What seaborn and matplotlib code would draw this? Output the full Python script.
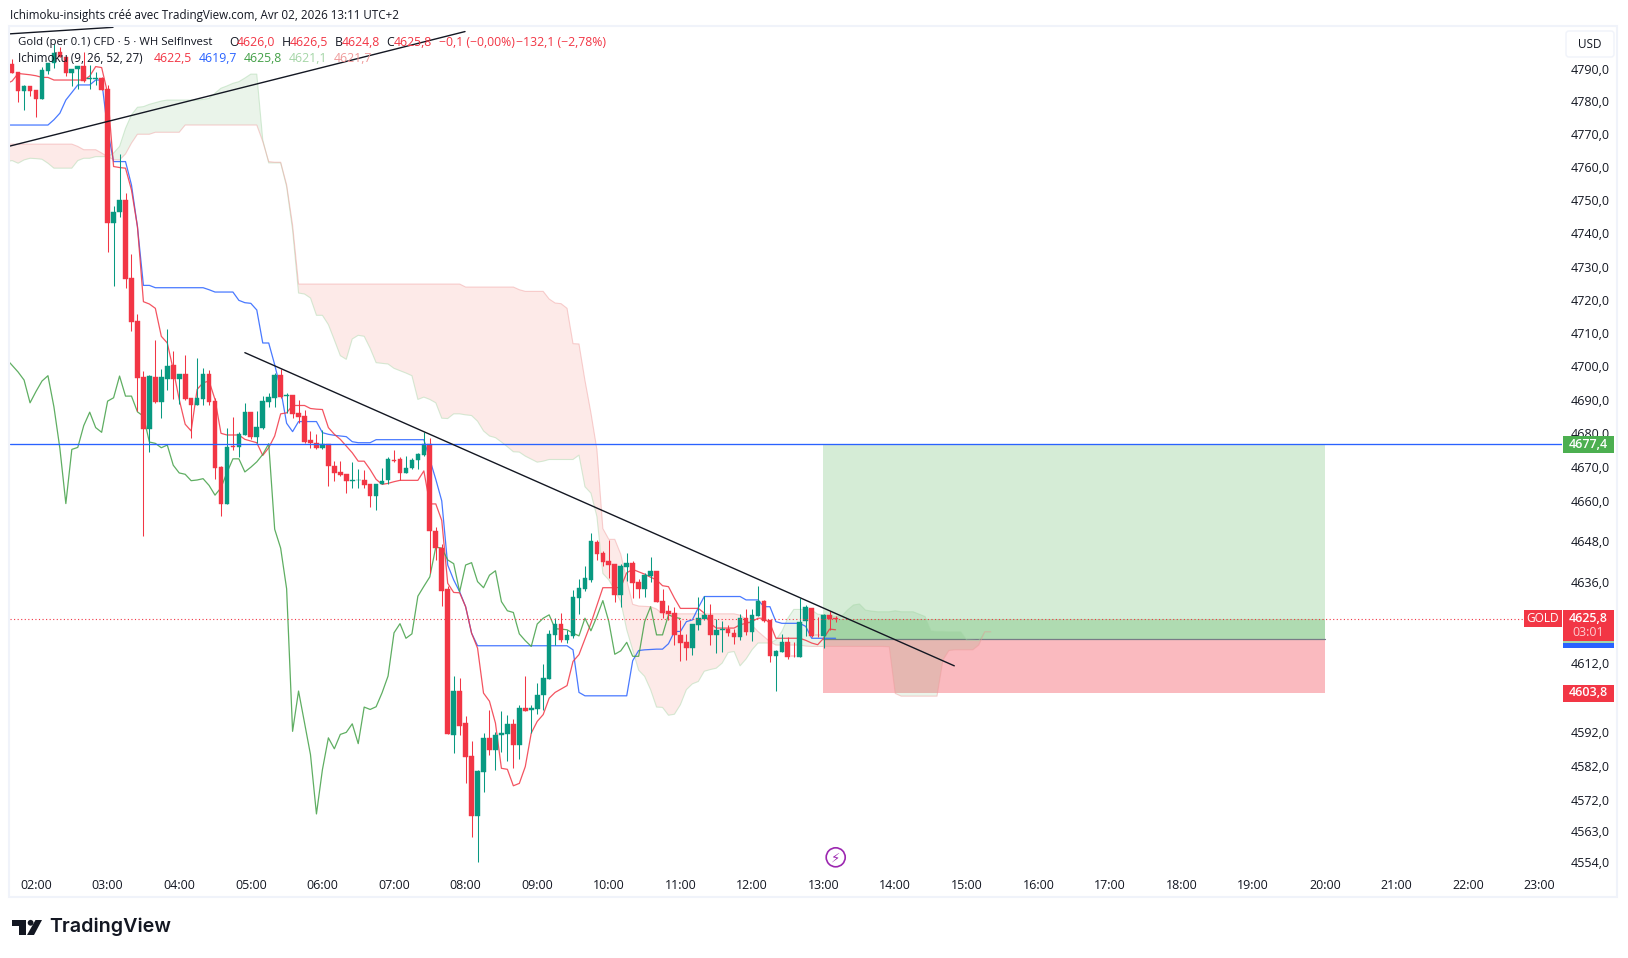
import numpy as np
import pandas as pd
import matplotlib
matplotlib.use("Agg")
import matplotlib.pyplot as plt
import seaborn as sns
from matplotlib.patches import Rectangle, Polygon, Circle, FancyBboxPatch
from matplotlib.transforms import Affine2D, ScaledTranslation
from matplotlib.ticker import NullLocator

# --- CHART DATA (prices) ---
# one value per 5 min bar, first candle is 01:40
opens = [
    4792.0, 4789.7, 4784.0, 4785.4, 4784.2, 4781.5, 4790.0, 4792.3, 4795.8, 4794.1,
    4789.4, 4790.5, 4791.5, 4787.6, 4787.6, 4787.7, 4784.4, 4743.9, 4747.0, 4750.8,
    4727.1, 4714.3, 4697.4, 4682.0, 4697.6, 4690.0, 4696.9, 4701.2, 4696.9, 4698.3,
    4691.1, 4689.1, 4690.9, 4698.3, 4690.2, 4670.6, 4659.6, 4676.9, 4676.5, 4680.2,
    4687.2, 4679.6, 4682.2, 4689.9, 4691.2, 4698.0, 4691.9, 4692.0, 4686.9, 4686.0,
    4678.6, 4677.9, 4676.2, 4677.4, 4671.1, 4669.1, 4668.5, 4666.6, 4666.8, 4666.9,
    4665.5, 4662.0, 4665.5, 4666.8, 4672.8, 4672.9, 4668.8, 4670.4, 4672.7, 4674.1,
    4677.6, 4651.8, 4646.6, 4634.4, 4591.7, 4604.6, 4595.2, 4585.5, 4568.0, 4580.8,
    4590.8, 4587.3, 4591.5, 4592.0, 4594.9, 4588.6, 4599.5, 4598.8, 4599.3, 4603.2,
    4608.1, 4621.1, 4624.3, 4619.6, 4620.8, 4632.0, 4634.6, 4637.3, 4648.3, 4645.1,
    4642.7, 4641.9, 4632.8, 4641.0, 4642.1, 4636.6, 4634.5, 4638.3, 4639.8, 4631.0,
    4628.1, 4627.5, 4621.0, 4619.0, 4617.2, 4624.0, 4625.7, 4626.9, 4621.0, 4622.4,
    4622.8, 4621.6, 4620.4, 4626.0, 4621.9, 4626.6, 4631.0, 4625.4, 4614.9, 4616.1,
    4619.0, 4614.9, 4614.4, 4625.1, 4628.9, 4621.0, 4620.7, 4626.9, 4626.0,
]
highs = [
    4793.5, 4789.7, 4785.7, 4785.4, 4784.2, 4791.3, 4792.3, 4798.3, 4797.3, 4794.1,
    4790.6, 4791.5, 4795.8, 4791.8, 4789.7, 4788.2, 4785.7, 4749.0, 4764.6, 4752.8,
    4734.6, 4716.4, 4699.4, 4698.0, 4708.7, 4699.9, 4712.0, 4705.4, 4698.3, 4704.2,
    4691.1, 4703.3, 4700.2, 4699.7, 4691.3, 4670.9, 4682.4, 4685.6, 4681.2, 4689.6,
    4687.2, 4687.3, 4691.8, 4692.8, 4698.6, 4700.0, 4692.8, 4692.0, 4690.5, 4687.8,
    4681.4, 4680.4, 4681.7, 4677.4, 4672.6, 4672.6, 4668.5, 4672.3, 4670.2, 4669.7,
    4665.5, 4665.7, 4670.4, 4673.6, 4675.6, 4673.6, 4673.9, 4673.2, 4674.7, 4681.2,
    4679.4, 4653.0, 4647.9, 4635.4, 4609.0, 4608.3, 4597.3, 4589.9, 4581.3, 4592.2,
    4599.0, 4592.5, 4598.7, 4597.5, 4596.4, 4600.4, 4609.0, 4600.5, 4607.0, 4612.5,
    4622.3, 4625.9, 4627.4, 4622.5, 4634.2, 4637.5, 4641.3, 4651.2, 4648.9, 4645.7,
    4648.9, 4641.9, 4641.9, 4645.1, 4642.7, 4637.6, 4639.1, 4643.9, 4639.8, 4634.5,
    4629.8, 4629.2, 4625.4, 4621.3, 4624.3, 4632.2, 4632.5, 4630.1, 4625.7, 4625.1,
    4624.0, 4622.8, 4627.2, 4628.7, 4628.7, 4635.4, 4631.3, 4625.4, 4616.6, 4621.3,
    4620.4, 4619.0, 4631.9, 4629.8, 4628.9, 4626.2, 4627.2, 4628.1, 4626.5,
]
lows = [
    4789.4, 4780.6, 4778.1, 4782.4, 4775.8, 4781.5, 4789.0, 4791.0, 4794.1, 4788.4,
    4785.5, 4784.4, 4786.7, 4784.4, 4785.7, 4784.2, 4735.1, 4724.8, 4745.5, 4724.3,
    4711.2, 4687.3, 4650.1, 4675.1, 4689.6, 4685.3, 4693.6, 4690.8, 4689.3, 4690.5,
    4679.4, 4689.0, 4689.0, 4689.2, 4667.0, 4656.1, 4659.6, 4675.7, 4673.6, 4680.2,
    4679.1, 4677.9, 4682.1, 4688.4, 4688.4, 4691.1, 4686.8, 4685.3, 4683.9, 4677.9,
    4676.2, 4675.9, 4676.1, 4665.0, 4666.5, 4668.0, 4662.8, 4664.5, 4664.3, 4664.5,
    4658.8, 4657.8, 4665.5, 4665.7, 4672.1, 4666.7, 4668.8, 4670.2, 4670.2, 4673.9,
    4639.1, 4643.2, 4629.5, 4592.0, 4586.5, 4591.7, 4577.7, 4561.9, 4554.5, 4575.1,
    4585.8, 4581.4, 4586.8, 4584.1, 4582.1, 4584.6, 4598.7, 4592.2, 4597.7, 4598.8,
    4608.1, 4618.1, 4618.8, 4618.6, 4620.0, 4627.2, 4633.9, 4636.7, 4643.0, 4641.3,
    4637.7, 4630.7, 4629.3, 4636.9, 4631.9, 4631.9, 4632.2, 4636.6, 4630.7, 4626.0,
    4625.4, 4618.1, 4613.4, 4613.7, 4615.2, 4622.5, 4625.4, 4617.9, 4615.8, 4616.1,
    4620.7, 4618.4, 4619.4, 4621.0, 4619.1, 4626.6, 4624.7, 4613.1, 4604.6, 4616.1,
    4614.0, 4614.6, 4614.4, 4620.7, 4620.5, 4620.5, 4617.2, 4622.5, 4624.8,
]
closes = [
    4789.4, 4784.0, 4785.4, 4784.0, 4781.5, 4790.2, 4792.3, 4795.5, 4794.1, 4789.4,
    4790.6, 4791.5, 4787.0, 4787.7, 4787.7, 4784.2, 4743.9, 4747.0, 4750.8, 4726.9,
    4714.1, 4697.1, 4682.0, 4697.7, 4690.0, 4697.4, 4700.9, 4696.9, 4698.3, 4690.9,
    4689.1, 4691.1, 4698.3, 4690.0, 4670.4, 4659.6, 4676.5, 4676.5, 4680.4, 4687.2,
    4679.5, 4682.5, 4690.2, 4691.4, 4698.0, 4691.4, 4692.0, 4686.6, 4685.7, 4678.1,
    4677.7, 4676.3, 4677.4, 4670.9, 4668.8, 4668.2, 4666.5, 4666.7, 4666.9, 4665.3,
    4662.0, 4665.7, 4666.6, 4672.9, 4672.6, 4668.9, 4670.5, 4672.8, 4674.4, 4677.6,
    4651.7, 4646.6, 4634.0, 4592.0, 4604.6, 4594.3, 4585.3, 4568.0, 4581.1, 4590.8,
    4587.3, 4591.7, 4592.2, 4594.9, 4588.6, 4599.6, 4598.7, 4599.5, 4603.4, 4608.4,
    4621.3, 4624.3, 4619.6, 4621.0, 4632.2, 4634.8, 4637.7, 4648.6, 4644.8, 4642.4,
    4641.6, 4632.8, 4641.3, 4642.1, 4636.3, 4634.5, 4638.6, 4639.8, 4630.7, 4627.5,
    4627.2, 4621.0, 4618.7, 4617.2, 4624.3, 4626.0, 4626.9, 4621.0, 4622.5, 4622.7,
    4621.6, 4620.4, 4626.0, 4621.9, 4626.9, 4631.0, 4625.1, 4614.9, 4616.3, 4619.0,
    4614.6, 4614.7, 4624.8, 4629.2, 4620.7, 4620.9, 4626.9, 4625.7, 4625.8,
]
# indicator lines start one bar earlier, at the pane's left edge
tenkan = [
    4786.0,
    4786.9, 4789.2, 4789.0, 4788.8, 4788.5, 4788.0, 4788.0, 4787.2, 4787.2, 4787.2,
    4787.2, 4787.2, 4787.2, 4788.4, 4791.3, 4791.0, 4783.2, 4760.9, 4760.6, 4760.4,
    4753.8, 4742.7, 4720.1, 4719.4, 4718.1, 4709.7, 4707.7, 4699.7, 4690.8, 4683.4,
    4681.4, 4693.8, 4695.8, 4696.3, 4690.8, 4680.7, 4680.2, 4680.2, 4680.2, 4678.9,
    4678.4, 4677.9, 4674.1, 4676.4, 4679.9, 4686.5, 4686.8, 4689.0, 4689.0, 4689.0,
    4688.1, 4687.9, 4687.8, 4682.4, 4680.4, 4678.9, 4676.9, 4674.9, 4672.4, 4672.4,
    4669.9, 4667.0, 4665.5, 4665.8, 4666.3, 4666.7, 4666.7, 4666.7, 4666.7, 4669.5,
    4659.7, 4659.7, 4654.8, 4636.2, 4633.5, 4633.4, 4629.3, 4621.5, 4617.1, 4603.9,
    4601.5, 4595.1, 4581.9, 4581.6, 4576.8, 4577.5, 4582.4, 4592.2, 4595.6, 4597.6,
    4602.4, 4604.1, 4605.1, 4606.1, 4613.2, 4615.2, 4619.8, 4624.4, 4629.6, 4634.9,
    4634.9, 4634.9, 4635.0, 4639.3, 4640.3, 4639.6, 4638.9, 4638.0, 4637.2, 4635.5,
    4635.2, 4631.8, 4628.8, 4628.8, 4628.8, 4628.8, 4627.4, 4624.4, 4623.0, 4623.0,
    4623.0, 4623.0, 4624.0, 4624.4, 4624.9, 4625.9, 4625.9, 4624.4, 4620.0, 4620.0,
    4620.0, 4620.0, 4620.0, 4619.4, 4618.6, 4618.1, 4620.0, 4622.7, 4622.5,
]
kijun = [
    4773.5,
    4773.5, 4773.5, 4773.5, 4773.5, 4773.5, 4773.5, 4773.5, 4775.1, 4777.1, 4781.1,
    4783.4, 4785.7, 4785.7, 4785.7, 4787.2, 4787.2, 4772.0, 4762.4, 4762.4, 4762.4,
    4755.3, 4742.7, 4725.0, 4725.0, 4724.3, 4724.3, 4724.3, 4724.3, 4724.3, 4724.3,
    4724.3, 4724.3, 4724.3, 4723.7, 4723.0, 4723.0, 4723.0, 4723.0, 4720.5, 4719.8,
    4719.6, 4717.6, 4707.7, 4707.7, 4701.2, 4693.8, 4683.7, 4681.2, 4684.2, 4684.2,
    4684.2, 4684.2, 4680.9, 4680.4, 4680.1, 4679.9, 4679.7, 4678.2, 4677.9, 4677.9,
    4677.9, 4678.8, 4678.8, 4678.8, 4678.8, 4678.8, 4678.8, 4678.8, 4678.8, 4678.8,
    4672.9, 4667.0, 4660.6, 4641.6, 4637.2, 4633.7, 4629.3, 4621.5, 4617.8, 4617.8,
    4617.8, 4617.8, 4617.8, 4617.8, 4617.8, 4617.8, 4617.8, 4617.8, 4617.8, 4617.8,
    4617.8, 4617.8, 4617.8, 4617.8, 4616.6, 4604.1, 4603.1, 4603.1, 4603.1, 4603.1,
    4603.1, 4603.1, 4603.1, 4603.1, 4613.4, 4616.4, 4616.6, 4616.7, 4616.8, 4616.8,
    4618.4, 4622.0, 4622.0, 4624.9, 4625.4, 4629.0, 4632.3, 4632.3, 4632.3, 4632.3,
    4632.3, 4632.3, 4632.3, 4631.3, 4631.3, 4631.3, 4629.3, 4629.3, 4624.9, 4624.4,
    4624.4, 4624.4, 4624.4, 4623.5, 4620.0, 4620.0, 4620.0, 4620.0, 4620.0,
]
chikou = [
    4703.0,
    4701.0, 4699.0, 4696.6, 4689.8, 4693.2, 4696.3, 4697.9, 4688.6, 4676.2, 4659.8,
    4675.9, 4676.5, 4683.0, 4687.0, 4682.4, 4681.0, 4690.3, 4691.3, 4697.8, 4691.8,
    4691.8, 4687.1, 4685.8, 4678.1, 4677.7, 4676.4, 4677.2, 4671.2, 4668.9, 4668.5,
    4666.6, 4666.8, 4667.2, 4665.2, 4662.3, 4664.5, 4669.0, 4673.1, 4673.1, 4669.2,
    4670.6, 4672.2, 4674.4, 4677.6, 4652.2, 4646.6, 4634.6, 4592.7, 4604.5, 4595.2,
    4585.9, 4568.6, 4581.5, 4590.8, 4587.6, 4591.8, 4592.4, 4594.9, 4589.1, 4599.8,
    4599.1, 4599.9, 4604.0, 4608.9, 4621.6, 4624.3, 4620.0, 4621.3, 4632.4, 4635.3,
    4638.1, 4646.9, 4646.6, 4643.1, 4642.0, 4633.7, 4641.6, 4642.3, 4636.7, 4634.9,
    4638.6, 4639.9, 4630.8, 4628.1, 4627.6, 4621.3, 4619.3, 4617.6, 4624.2, 4625.9,
    4626.9, 4622.8, 4622.7, 4622.5, 4621.5, 4620.7, 4625.9, 4622.2, 4626.4, 4631.1,
    4624.9, 4615.3, 4616.3, 4618.8, 4614.7, 4614.7, 4624.9, 4629.3, 4621.0, 4621.0,
    4626.9, 4626.2, 4625.8,
]
senkou_a = [
    4762.4,
    4762.7, 4761.9, 4762.9, 4763.4, 4763.3, 4763.1, 4761.9, 4760.4, 4760.4, 4760.4,
    4760.4, 4762.7, 4763.4, 4763.4, 4763.9, 4763.9, 4763.9, 4765.0, 4767.0, 4772.5,
    4776.6, 4778.9, 4779.1, 4779.8, 4780.3, 4780.8, 4781.1, 4781.1, 4781.1, 4781.1,
    4781.1, 4781.1, 4781.3, 4781.6, 4783.2, 4784.7, 4785.4, 4786.2, 4786.7, 4787.8,
    4789.0, 4789.0, 4769.0, 4762.0, 4762.0, 4762.0, 4754.8, 4741.7, 4722.7, 4722.4,
    4721.2, 4716.0, 4716.0, 4713.2, 4708.6, 4703.9, 4702.8, 4708.9, 4710.0, 4709.7,
    4706.1, 4701.8, 4701.6, 4701.4, 4700.1, 4699.4, 4698.7, 4697.9, 4690.8, 4691.5,
    4690.8, 4689.8, 4685.2, 4685.1, 4686.5, 4686.5, 4686.2, 4686.0, 4684.3, 4681.4,
    4679.9, 4679.4, 4678.1, 4676.7, 4675.2, 4675.1, 4673.9, 4673.0, 4672.1, 4672.4,
    4672.9, 4672.9, 4672.9, 4672.9, 4672.9, 4674.2, 4664.8, 4662.9, 4656.0, 4639.1,
    4637.2, 4634.2, 4630.8, 4622.5, 4616.6, 4610.6, 4608.8, 4604.9, 4599.8, 4599.7,
    4597.4, 4597.7, 4600.5, 4604.9, 4606.6, 4607.3, 4610.3, 4610.8, 4611.2, 4612.7,
    4615.8, 4616.1, 4611.9, 4613.9, 4616.6, 4618.6, 4618.6, 4618.6, 4619.5, 4622.0,
    4625.9, 4628.5, 4628.5, 4628.5, 4628.3, 4627.1, 4626.9, 4626.6, 4626.4, 4626.4,
    4628.3, 4629.8, 4630.1, 4628.3, 4628.0, 4627.8, 4627.8, 4627.8, 4628.1, 4627.8,
    4627.8, 4627.8, 4627.1, 4626.4, 4622.2, 4622.0, 4622.0, 4621.9, 4621.9, 4621.9,
    4619.5, 4619.4, 4619.3, 4621.9, 4621.9,
]
senkou_b = [
    4767.7,
    4767.7, 4767.7, 4767.7, 4767.7, 4767.7, 4767.7, 4767.7, 4767.7, 4767.7, 4767.7,
    4767.7, 4767.0, 4766.0, 4766.0, 4766.0, 4765.0, 4763.9, 4763.0, 4762.9, 4764.7,
    4768.0, 4770.7, 4770.7, 4770.7, 4771.3, 4771.3, 4771.3, 4771.3, 4771.3, 4773.5,
    4773.5, 4773.5, 4773.5, 4773.5, 4773.5, 4773.5, 4773.5, 4773.5, 4773.5, 4773.5,
    4773.5, 4773.5, 4768.5, 4762.4, 4762.2, 4762.2, 4755.4, 4743.2, 4725.4, 4725.4,
    4725.4, 4725.4, 4725.4, 4725.4, 4725.4, 4725.4, 4725.4, 4725.4, 4725.4, 4725.4,
    4725.4, 4725.4, 4725.4, 4725.4, 4725.4, 4725.4, 4725.4, 4725.4, 4725.4, 4725.4,
    4725.4, 4725.4, 4725.4, 4725.4, 4725.4, 4725.4, 4724.5, 4724.5, 4724.5, 4724.5,
    4724.5, 4724.5, 4724.5, 4724.5, 4724.5, 4723.7, 4723.2, 4723.2, 4723.2, 4723.2,
    4720.9, 4719.7, 4719.5, 4718.1, 4707.5, 4707.4, 4696.5, 4686.8, 4675.9, 4652.4,
    4649.2, 4649.2, 4644.8, 4637.2, 4630.0, 4629.5, 4629.4, 4629.3, 4628.6, 4627.2,
    4627.2, 4627.2, 4627.2, 4627.2, 4627.2, 4627.2, 4627.2, 4627.2, 4627.2, 4627.2,
    4627.2, 4627.2, 4626.8, 4625.5, 4623.8, 4622.0, 4620.5, 4619.0, 4618.0, 4618.0,
    4618.0, 4618.0, 4618.0, 4617.7, 4617.6, 4617.6, 4617.6, 4617.6, 4617.6, 4617.6,
    4617.6, 4617.6, 4617.6, 4617.6, 4617.6, 4617.6, 4617.6, 4617.5, 4603.8, 4603.0,
    4603.0, 4603.0, 4603.0, 4603.0, 4603.0, 4603.0, 4613.6, 4616.4, 4616.6, 4616.6,
    4616.6, 4616.6, 4618.0, 4621.9, 4621.9,
]
# 4624 and 4602 sit fully behind the price tags in the reference
price_ticks = [4790, 4780, 4770, 4760, 4750, 4740, 4730, 4720, 4710, 4700, 4690, 4680, 4670,
               4660, 4648, 4636, 4612, 4592, 4582, 4572, 4563, 4554]
time_labels = ['02:00', '03:00', '04:00', '05:00', '06:00', '07:00', '08:00', '09:00',
               '10:00', '11:00', '12:00', '13:00', '14:00', '15:00', '16:00', '17:00',
               '18:00', '19:00', '20:00', '21:00', '22:00', '23:00']
target_price = 4677.4
entry_price = 4619.9
stop_price = 4603.8
last_price = 4625.8
trade_bars = [131.9, 216]
# drawn lines: (bar, price) ends
trend_down = ([35.0, 153.9], [4704.8, 4611.9])
trend_up = ([-4.4, 71.9], [4767.1, 4802.0])
trend_top = ([-4.4, 12.9], [4801.3, 4803.3])

UP = '#089981'
DOWN = '#f23645'
BLUE = '#2962ff'
GREEN = '#43a047'
INK = '#131722'
W, H = 1628, 958
FONT = 'Open Sans'

for name, arr, n in [('ohlc', opens, 139), ('h', highs, 139), ('l', lows, 139), ('c', closes, 139),
                     ('tenkan', tenkan, 140), ('kijun', kijun, 140), ('chikou', chikou, 114),
                     ('a', senkou_a, 166), ('b', senkou_b, 166)]:
    assert len(arr) == n, (name, len(arr))

sns.set_theme(style='white')
plt.rcParams['font.family'] = FONT

fig = plt.figure(figsize=(W / 100, H / 100), dpi=100, facecolor='white')
ax = fig.add_axes([10 / W, 1 - 897 / H, (1562 - 10) / W, (897 - 26) / H])
for s in ax.spines.values():
    s.set_visible(False)

px = Affine2D().scale(1, -1).translate(0, H)  # overlay artists in screen pixels, y down

# --- CANDLES ---
df = pd.DataFrame({'open': opens, 'high': highs, 'low': lows, 'close': closes})
df['bar'] = np.arange(len(df)) - 4
df['color'] = np.where(df['close'] >= df['open'], UP, DOWN)

# --- CLOUD ---
cloud = pd.DataFrame({'bar': np.arange(len(senkou_a)) - 5, 'a': senkou_a, 'b': senkou_b})
ax.fill_between(cloud['bar'], cloud['a'], cloud['b'], where=cloud['a'] >= cloud['b'], interpolate=True,
                color='#43a047', alpha=0.11, lw=0, zorder=2)
ax.fill_between(cloud['bar'], cloud['a'], cloud['b'], where=cloud['a'] < cloud['b'], interpolate=True,
                color='#f44336', alpha=0.11, lw=0, zorder=2)
sns.lineplot(data=cloud, x='bar', y='a', color='#a5d6a7', alpha=0.45, lw=0.8, ax=ax, zorder=2, errorbar=None)
sns.lineplot(data=cloud, x='bar', y='b', color='#ef9a9a', alpha=0.45, lw=0.8, ax=ax, zorder=2, errorbar=None)

# --- LONG POSITION TOOL ---
ax.fill_between(trade_bars, entry_price, target_price, color='#4caf50', alpha=0.23, lw=0, zorder=1)
ax.fill_between(trade_bars, stop_price, entry_price, color='#f23645', alpha=0.34, lw=0, zorder=1)
ax.fill_between(trade_bars, entry_price, last_price, color='#4caf50', alpha=0.27, lw=0, zorder=1.1)
ax.plot(trade_bars, [entry_price, entry_price], color='#787b86', lw=0.9, zorder=1.2)

# --- ICHIMOKU LINES ---
lines = pd.DataFrame({'bar': np.arange(len(tenkan)) - 5, 'tenkan': tenkan, 'kijun': kijun})
sns.lineplot(data=lines, x='bar', y='kijun', color=BLUE, lw=0.9, alpha=0.85, ax=ax, zorder=3, errorbar=None)
sns.lineplot(data=lines, x='bar', y='tenkan', color=DOWN, lw=0.9, alpha=0.85, ax=ax, zorder=3, errorbar=None)
sns.lineplot(x=np.arange(len(chikou)) - 5, y=chikou, color=GREEN, lw=0.9, alpha=0.85, ax=ax, zorder=3, errorbar=None)

ax.vlines(df['bar'], df['low'], df['high'], colors=df['color'], lw=0.75, zorder=4)
ax.bar(df['bar'], (df['close'] - df['open']).abs(), bottom=df[['open', 'close']].min(axis=1),
       width=0.78, color=df['color'], edgecolor=df['color'], lw=0.3, zorder=4)

# --- PRICE LINES / TRENDLINES ---
ax.axhline(target_price, color=BLUE, lw=0.95, zorder=5)
ax.plot([-4.4, 249.2], [last_price, last_price], color=DOWN, lw=0.8, ls=(0, (1, 2.2)), zorder=5)
for xs, ys in (trend_down, trend_up, trend_top):
    sns.lineplot(x=xs, y=ys, color=INK, lw=1.0, ax=ax, zorder=6, errorbar=None)

# --- AXES ---
ax.set_yscale('log')
ax.set_xlim(-4.36, 255.75)
ax.set_ylim(4544.5, 4803.7)
ax.set_xlabel('')
ax.set_ylabel('')
ax.yaxis.tick_right()
ax.set_yticks(price_ticks, [f'{t},0' for t in price_ticks])
ax.yaxis.set_minor_locator(NullLocator())
ax.set_xticks(np.arange(len(time_labels)) * 12, time_labels)
ax.tick_params(axis='y', length=0, pad=6.5, labelsize=9, labelcolor=INK)
ax.tick_params(axis='x', length=0, pad=-13.3, labelsize=9, labelcolor=INK)
ax.grid(False)
# price labels sit a little above their level in the reference
for lab in ax.get_yticklabels():
    lab.set_transform(lab.get_transform() + ScaledTranslation(0, 1.6 / 72, fig.dpi_scale_trans))

# --- FRAME AND PRICE TAGS ---
fig.add_artist(Rectangle((9, 26), 1608, 871, transform=px, fill=False, ec='#f0f3fa', lw=1.5))
fig.add_artist(FancyBboxPatch((1568, 33), 44, 22, boxstyle='round,pad=2,rounding_size=3', transform=px,
                              fc='white', ec='#f0f3fa', lw=1))
fig.text(1590, 44, 'USD', transform=px, ha='center', va='center', fontsize=8.5, color=INK)


def tag(x0, y0, x1, y1, color):
    fig.add_artist(Rectangle((x0, y0), x1 - x0, y1 - y0, transform=px, fc=color, ec='none', zorder=2))


def label(x, y, s, color=INK, size=9, weight='normal', ha='left', alpha=1.0):
    fig.text(x, y, s, transform=px, color=color, fontsize=size, fontweight=weight, ha=ha, va='center',
             alpha=alpha, zorder=5)


tag(1563, 436, 1614, 452.7, '#4caf50')
label(1588.5, 444, '4677,4', 'white', 9, 'semibold', 'center')
tag(1563, 640.5, 1614, 642.5, '#a5d6a7')
tag(1563, 642.5, 1614, 648, BLUE)
tag(1563, 610, 1614, 640.7, DOWN)
label(1588.5, 618, '4625,8', 'white', 9, 'semibold', 'center')
label(1588.5, 632, '03:01', 'white', 9, 'normal', 'center', 0.75)
tag(1524, 610, 1562, 627, DOWN)
label(1543, 618, 'GOLD', 'white', 8.6, 'normal', 'center')
tag(1563, 685, 1614, 701.7, DOWN)
label(1588.5, 693, '4603,8', 'white', 9, 'semibold', 'center')

# --- HEADER TEXT ---
label(10, 15, 'Ichimoku-insights créé avec TradingView.com, Avr 02, 2026 13:11 UTC+2', size=8.4)
label(18, 42, 'Gold (per 0.1) CFD · 5 · WH SelfInvest', size=8.2)
for x, s, c in [(229, 'O', INK), (237, '4626,0', DOWN), (282, 'H', INK), (290, '4626,5', DOWN),
                (335, 'B', INK), (342, '4624,8', DOWN), (386, 'C', INK), (394, '4625,8', DOWN),
                (439, '−0,1 (−0,00%)', DOWN), (516, '−132,1 (−2,78%)', DOWN)]:
    label(x, 42, s, c, size=8.8)
label(18, 59, 'Ichimoku (9, 26, 52, 27)', size=8.4)
for x, s, c in [(154, '4622,5', DOWN), (199, '4619,7', BLUE), (244, '4625,8', GREEN),
                (289, '4621,1', '#a5d6a7'), (334, '4621,7', '#ef9a9a')]:
    label(x, 59, s, c, size=8.8)

# --- PURPLE EVENT MARK ---
fig.add_artist(Circle((835.7, 857.3), 9.5, transform=px, fill=False, ec='#9c27b0', lw=1.2))
fig.text(835.7, 857.8, '⚡', transform=px, color='#9c27b0', fontsize=9.5, ha='center', va='center',
         family='DejaVu Sans', zorder=5)

# --- LOGO ---
fig.add_artist(Polygon([(12, 920), (26, 920), (26, 935), (19, 935), (19, 926), (12, 926)], transform=px,
                       fc=INK, ec='none'))
fig.add_artist(Circle((30.6, 922.8), 2.9, transform=px, fc=INK, ec='none'))
fig.add_artist(Polygon([(35.5, 920), (42, 920), (34, 935), (27, 935)], transform=px, fc=INK, ec='none'))
fig.text(49, 927, 'TradingView', transform=px, color=INK, fontsize=14.2, fontweight='semibold', family='Inter',
         ha='left', va='center', zorder=5)

fig.savefig('out.png', dpi=100, facecolor='white')
